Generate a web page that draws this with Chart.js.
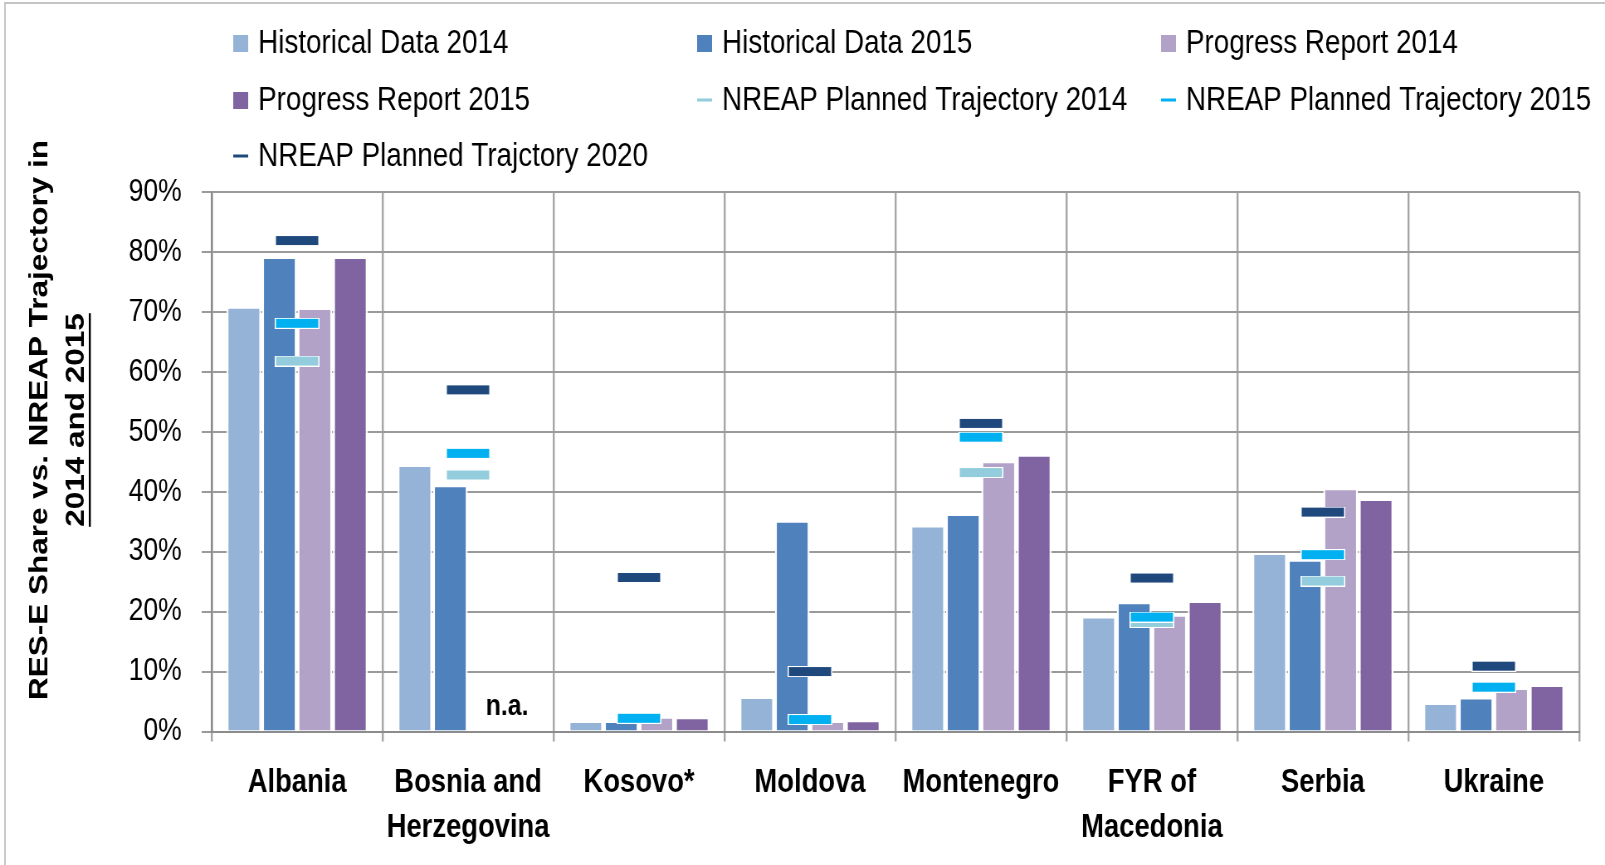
<!DOCTYPE html>
<html>
<head>
<meta charset="utf-8">
<script src="https://cdn.jsdelivr.net/npm/chart.js@4.4.1/dist/chart.umd.min.js"></script>
<style>
  html, body { margin: 0; padding: 0; background: #fff; overflow: hidden; }
  /* the original chart is drawn with condensed lettering: lay it out wide, then squeeze horizontally */
  #wrap { width: 1934px; height: 865px; transform: scale(0.8299, 1); transform-origin: 0 0; }
</style>
</head>
<body>
<div id="wrap"><canvas id="res"></canvas></div>
<script>
const countries = ['Albania', ['Bosnia and', 'Herzegovina'], 'Kosovo*', 'Moldova', 'Montenegro', ['FYR of', 'Macedonia'], 'Serbia', 'Ukraine'];
const histData2014 = [70.7, 44.3, 1.6, 5.6, 34.2, 19.0, 29.6, 4.6];
const histData2015 = [79.0, 40.9, 1.6, 35.0, 36.1, 21.4, 28.5, 5.5];
const progress2014 = [70.5, null, 2.3, 1.6, 44.9, 19.3, 40.4, 7.1];
const progress2015 = [79.0, null, 2.2, 1.7, 46.0, 21.6, 38.6, 7.6];
const nreap2014 = [61.8, 42.8, null, null, 43.2, 18.2, 25.1, null];
const nreap2015 = [68.1, 46.4, 2.2, 2.0, 49.1, 19.1, 29.5, 7.4];
const nreap2020 = [81.9, 57.0, 25.7, 10.0, 51.4, 25.6, 36.6, 10.9];
const yMax = 90;
const yStep = 10;
const naLabel = 'n.a.';

const FONT = '"Liberation Sans", Arial, sans-serif';

// small white-edged dash used as the point style of the trajectory series
function makeMarker(color) {
    const c = document.createElement('canvas');
    c.width = 54;
    c.height = 11;
    const g = c.getContext('2d');
    g.fillStyle = '#ffffff';
    g.fillRect(0, 0, 54, 11);
    g.fillStyle = color;
    g.fillRect(1.5, 1, 51, 9);
    return c;
}

function barSet(label, data, color) {
    return {
        type: 'bar',
        label: label,
        data: data,
        backgroundColor: color,
        borderColor: '#ffffff',
        borderWidth: { left: 2.4, right: 2.4, top: 1, bottom: 0 },
        order: 10
    };
}

function markerSet(label, data, color, order) {
    return {
        type: 'line',
        label: label,
        data: data,
        borderColor: color,
        backgroundColor: color,
        showLine: false,
        pointStyle: makeMarker(color),
        pointHoverStyle: makeMarker(color),
        order: order
    };
}

const frame = {
    id: 'frame',
    beforeDraw(chart) {
        const ctx = chart.ctx;
        ctx.save();
        ctx.fillStyle = '#fff';
        ctx.fillRect(0, 0, chart.width, chart.height);
        ctx.strokeStyle = '#c4c4c4';
        ctx.lineWidth = 2;
        ctx.beginPath();
        ctx.moveTo(6, chart.height);
        ctx.lineTo(6, 3);
        ctx.lineTo(chart.width, 3);
        ctx.stroke();
        ctx.restore();
    }
};

const gridLegend = {
    id: 'gridLegend',
    afterDraw(chart) {
        const ctx = chart.ctx;
        const colX = [281, 840, 1399];
        const rowY = [43, 100, 156];
        ctx.save();
        ctx.font = '33.5px ' + FONT;
        ctx.textBaseline = 'middle';
        chart.data.datasets.forEach((ds, i) => {
            const x = colX[i % 3];
            const y = rowY[Math.floor(i / 3)];
            if (ds.type === 'line') {
                ctx.fillStyle = ds.borderColor;
                ctx.fillRect(x, y - 1.5, 18, 3);
            } else {
                ctx.fillStyle = ds.backgroundColor;
                ctx.fillRect(x, y - 8, 18, 17);
            }
            ctx.fillStyle = '#000';
            ctx.fillText(ds.label, x + 30, y + 1);
        });
        ctx.restore();
    }
};

const yTitle = {
    id: 'yTitle',
    afterDraw(chart) {
        const ctx = chart.ctx;
        const lines = ['RES-E Share vs. NREAP Trajectory in', '2014 and 2015'];
        const xs0 = [48, 92];
        lines.forEach((t, i) => {
            ctx.save();
            ctx.font = 'bold 31.5px ' + FONT;
            ctx.fillStyle = '#000';
            ctx.textAlign = 'center';
            ctx.textBaseline = 'middle';
            ctx.translate(xs0[i], 420);
            ctx.rotate(-Math.PI / 2);
            ctx.fillText(t, 0, 0);
            if (i === 1) {
                const w = ctx.measureText(t).width;
                ctx.fillRect(-w / 2, 15, w, 2.4);
            }
            ctx.restore();
        });

        // missing progress report values for Bosnia and Herzegovina
        const xs = chart.scales.x, ys = chart.scales.y;
        ctx.save();
        ctx.font = 'bold 30px ' + FONT;
        ctx.fillStyle = '#000';
        ctx.textAlign = 'center';
        ctx.textBaseline = 'middle';
        ctx.fillText(naLabel, xs.getPixelForValue(1) + 47, ys.getPixelForValue(4.1));
        ctx.restore();
    }
};

new Chart(document.getElementById('res'), {
    data: {
        labels: countries,
        datasets: [
            barSet('Historical Data 2014', histData2014, '#95B3D7'),
            barSet('Historical Data 2015', histData2015, '#4F81BD'),
            barSet('Progress Report 2014', progress2014, '#B3A2C7'),
            barSet('Progress Report 2015', progress2015, '#8064A2'),
            markerSet('NREAP Planned Trajectory 2014', nreap2014, '#93CDDD', 3),
            markerSet('NREAP Planned Trajectory 2015', nreap2015, '#00B0F0', 2),
            markerSet('NREAP Planned Trajctory 2020', nreap2020, '#1F497D', 1)
        ]
    },
    options: {
        responsive: true,
        maintainAspectRatio: false,
        animation: false,
        categoryPercentage: 0.83,
        barPercentage: 0.98,
        layout: { padding: { top: 192, right: 31, bottom: 0, left: 0 } },
        plugins: {
            legend: { display: false },
            tooltip: { enabled: false }
        },
        scales: {
            x: {
                offset: true,
                grid: { offset: true, color: '#a6a6a6', lineWidth: 2.4, tickLength: 10 },
                border: { color: '#8c8c8c', width: 2 },
                ticks: {
                    color: '#000',
                    padding: 19,
                    maxRotation: 0,
                    autoSkip: false,
                    font: { family: FONT, size: 33, weight: 'bold', lineHeight: 1.36 }
                },
                afterFit(s) { s.height = 865 - 731.5; }
            },
            y: {
                min: 0,
                max: yMax,
                grid: { color: '#9a9a9a', lineWidth: 2, tickLength: 12 },
                border: { color: '#8c8c8c', width: 2.4 },
                ticks: {
                    stepSize: yStep,
                    color: '#000',
                    padding: 24,
                    font: { family: FONT, size: 32 },
                    callback: v => v + '%'
                },
                afterFit(s) { s.width = 255; }
            }
        }
    },
    plugins: [frame, gridLegend, yTitle]
});
</script>
</body>
</html>
